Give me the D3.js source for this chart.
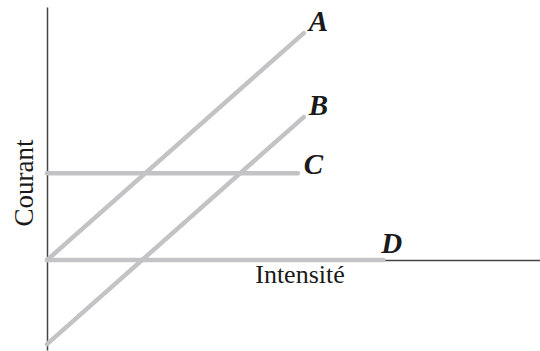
<!DOCTYPE html>
<html lang="fr">
<head>
    <meta charset="utf-8">
    <script src="https://d3js.org/d3.v7.min.js"></script>
    <style>
        body { margin: 0; background: #fff; }
        svg { display: block; }
        .lbl { font-family: "Liberation Serif", "Times New Roman", serif; font-weight: bold; font-style: italic; fill: #1a1a1a; }
        .ax-title { font-family: "Liberation Serif", "Times New Roman", serif; fill: #1a1a1a; }
    </style>
</head>
<body>
<div id="chart"></div>
<script>
    // series: Intensité (x) vs Courant (y), arbitrary units
    const names = ["A", "B", "C", "D"];
    const xValues = [[0, 10], [0, 10], [0, 9.77], [0, 13.1]];
    const yValues = [[0, 10], [-3.7, 6.3], [3.83, 3.83], [0, 0]];
    const xDomain = [0, 19.2];
    const yDomain = [-3.96, 11.15];

    const width = 540, height = 351;

    const svg = d3.select("#chart").append("svg")
        .attr("width", width)
        .attr("height", height);

    const x = d3.scaleLinear().domain(xDomain).range([47, 540]);
    const y = d3.scaleLinear().domain(yDomain).range([350, 7]);

    svg.append("g")
        .attr("transform", `translate(0,${y(0)})`)
        .call(d3.axisBottom(x).tickValues([]).tickSizeOuter(0))
        .call(g => g.select(".domain").attr("stroke", "#444").attr("stroke-width", 1.5));

    svg.append("g")
        .attr("transform", `translate(${x(0)},0)`)
        .call(d3.axisLeft(y).tickValues([]).tickSizeOuter(0))
        .call(g => g.select(".domain").attr("stroke", "#444").attr("stroke-width", 1.5));

    const series = names.map((n, i) => ({
        name: n,
        pts: xValues[i].map((v, j) => [v, yValues[i][j]])
    }));

    const line = d3.line().x(d => x(d[0])).y(d => y(d[1]));

    svg.append("g")
        .attr("fill", "none")
        .attr("stroke", "#c3c3c5")
        .attr("stroke-width", 4.5)
        .attr("stroke-linecap", "round")
        .selectAll("path")
        .data(series)
        .join("path")
        .attr("d", d => line(d.pts));

    // label offsets from the end of each line
    const offsets = {A: [5, -2], B: [5, -2], C: [6, 1], D: [-2, -7]};

    svg.append("g")
        .selectAll("text")
        .data(series)
        .join("text")
        .attr("class", "lbl")
        .attr("font-size", 29)
        .attr("x", d => x(d.pts[1][0]) + offsets[d.name][0])
        .attr("y", d => y(d.pts[1][1]) + offsets[d.name][1])
        .text(d => d.name);

    svg.append("text")
        .attr("class", "ax-title")
        .attr("font-size", 26)
        .attr("x", 300)
        .attr("y", 283)
        .attr("text-anchor", "middle")
        .text("Intensité");

    svg.append("text")
        .attr("class", "ax-title")
        .attr("font-size", 27)
        .attr("transform", "translate(33,183) rotate(-90)")
        .attr("text-anchor", "middle")
        .text("Courant");
</script>
</body>
</html>
